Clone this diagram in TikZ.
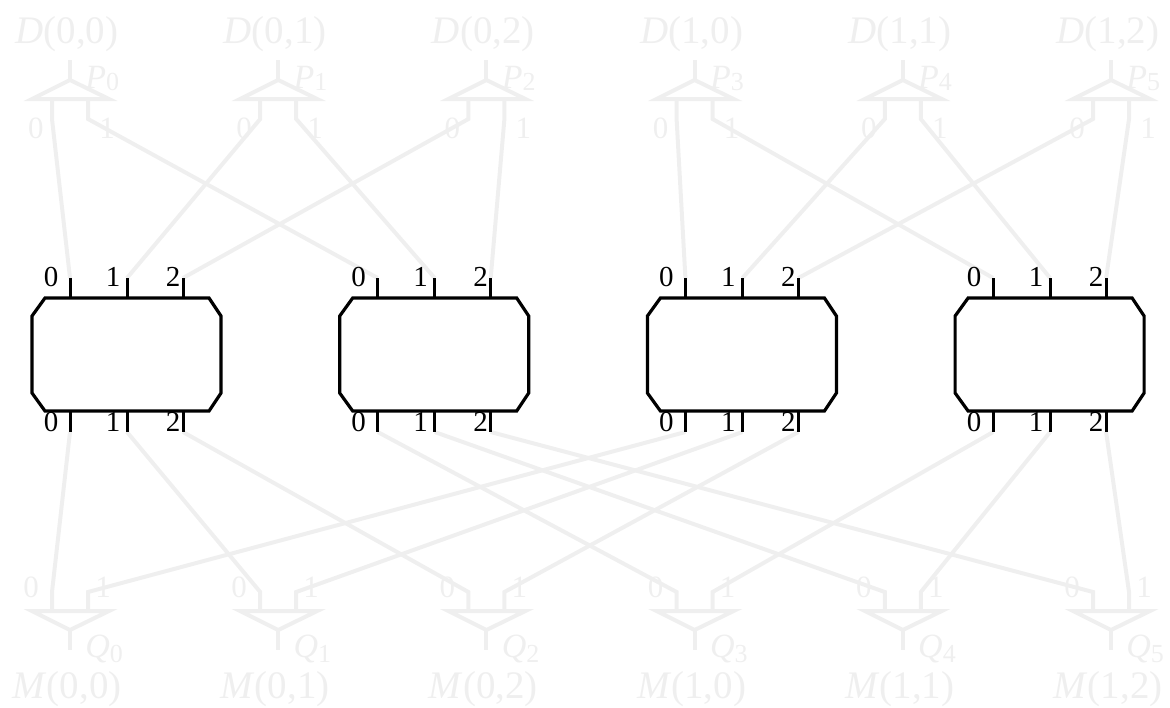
\documentclass[tikz,border=0pt]{standalone}
\usepackage{fontspec}
\setmainfont{Liberation Serif}
\usetikzlibrary{positioning}
\definecolor{faint}{HTML}{EFEFEF}
\pgfdeclarelayer{background}
\pgfsetlayers{background,main}

\begin{document}
\begin{tikzpicture}[
    x=0.5pt, y=-0.5pt,
    faint wire/.style={draw=faint, line width=2pt},
    mux line/.style={draw=faint, line width=2pt},
    box line/.style={draw=black, line width=1.6pt},
    port tick/.style={draw=black, line width=1.5pt},
    port label/.style={font=\fontsize{14.5}{15}\selectfont, inner sep=0pt, anchor=base},
    mux label/.style={font=\fontsize{15.5}{16}\selectfont, text=faint, inner sep=0pt, anchor=base},
    sel label/.style={font=\fontsize{17}{18}\selectfont, text=faint, inner sep=0pt, anchor=base west},
    sig label/.style={font=\fontsize{19.5}{22}\selectfont, text=faint, inner sep=0pt, anchor=base},
]

\def\mp{208.2}  % mux pitch
\def\bp{307.7}  % box pitch
\newcommand{\selidx}[2]{\raisebox{-#1}{\fontsize{13}{14}\selectfont#2}}

\useasboundingbox (0,0) rectangle (1170,707);

% =====================================================================
%  BOXES — four chamfered blocks, three ports on top and bottom
% =====================================================================
\foreach \k in {0,...,3} {
  \begin{scope}[shift={(\k*\bp,0)}]
    \draw[box line] (45,298) -- (209,298) -- (221,316) -- (221,393)
        -- (209,411) -- (45,411) -- (32,393) -- (32,316) -- cycle;
    \foreach \j/\px/\lx in {0/70/51, 1/127/113, 2/183/173} {
        \coordinate (B\k-t\j) at (\px,278);
        \coordinate (B\k-b\j) at (\px,432);
        \draw[port tick] (B\k-t\j) -- (\px,298);
        \draw[port tick] (\px,411) -- (B\k-b\j);
        \node[port label] (B\k-tl\j) at (\lx,286) {\j};
        \node[port label] (B\k-bl\j) at (\lx,431) {\j};
    }
  \end{scope}
}

% =====================================================================
%  MUXES — P (top, from D) and Q (bottom, to M)
% =====================================================================
\foreach \n/\ii/\jj in {0/0/0, 1/0/1, 2/0/2, 3/1/0, 4/1/1, 5/1/2} {
  \begin{scope}[shift={(\n*\mp,0)}]
    % --- top mux P ---
    \node[sig label] (D\n) at (67,43) {\textit{D}(\ii,\jj)};
    \draw[mux line] (70,60) -- (70,80);
    \draw[mux line] (32,99) -- (70,80) -- (109,99) -- cycle;
    \node[sel label] (P\n) at (85,88) {\textit{P}\selidx{1pt}{\n}};
    \coordinate (P\n-0s) at (52,99);
    \coordinate (P\n-1s) at (88,99);
    \coordinate (P\n-0) at (52,119);
    \coordinate (P\n-1) at (88,119);
    \node[mux label] (P\n-l0) at (36,138) {0};
    \node[mux label] (P\n-l1) at (107,138) {1};

    % --- bottom mux Q ---
    \draw[mux line] (32,611) -- (70,630) -- (109,611) -- cycle;
    \draw[mux line] (70,630) -- (70,650);
    \node[sel label] (Q\n) at (85,657) {\textit{Q}\selidx{2.5pt}{\n}};
    \node[sig label] (M\n) at (67,698) {\textit{M}(\ii,\jj)};
    \coordinate (Q\n-0s) at (52,611);
    \coordinate (Q\n-1s) at (88,611);
    \coordinate (Q\n-0) at (52,592);
    \coordinate (Q\n-1) at (88,592);
    \node[mux label] (Q\n-l0) at (31,597) {0};
    \node[mux label] (Q\n-l1) at (103,597) {1};
  \end{scope}
}

\begin{pgfonlayer}{background}
% --- wires: P legs -> box top ports ---
\foreach \k/\g/\b in {0/0/0, 1/0/1, 2/3/0, 3/3/1} {
  \foreach \j in {0,1,2} {
    \pgfmathtruncatemacro\n{\g+\j}
    \draw[faint wire] (P\n-\b s) -- (P\n-\b) -- (B\k-t\j);
  }
}

% --- wires: box bottom ports -> Q legs ---
\foreach \k/\g/\b in {0/0/0, 1/3/0, 2/0/1, 3/3/1} {
  \foreach \j in {0,1,2} {
    \pgfmathtruncatemacro\n{\g+\j}
    \draw[faint wire] (B\k-b\j) -- (Q\n-\b) -- (Q\n-\b s);
  }
}
\end{pgfonlayer}

\end{tikzpicture}
\end{document}
